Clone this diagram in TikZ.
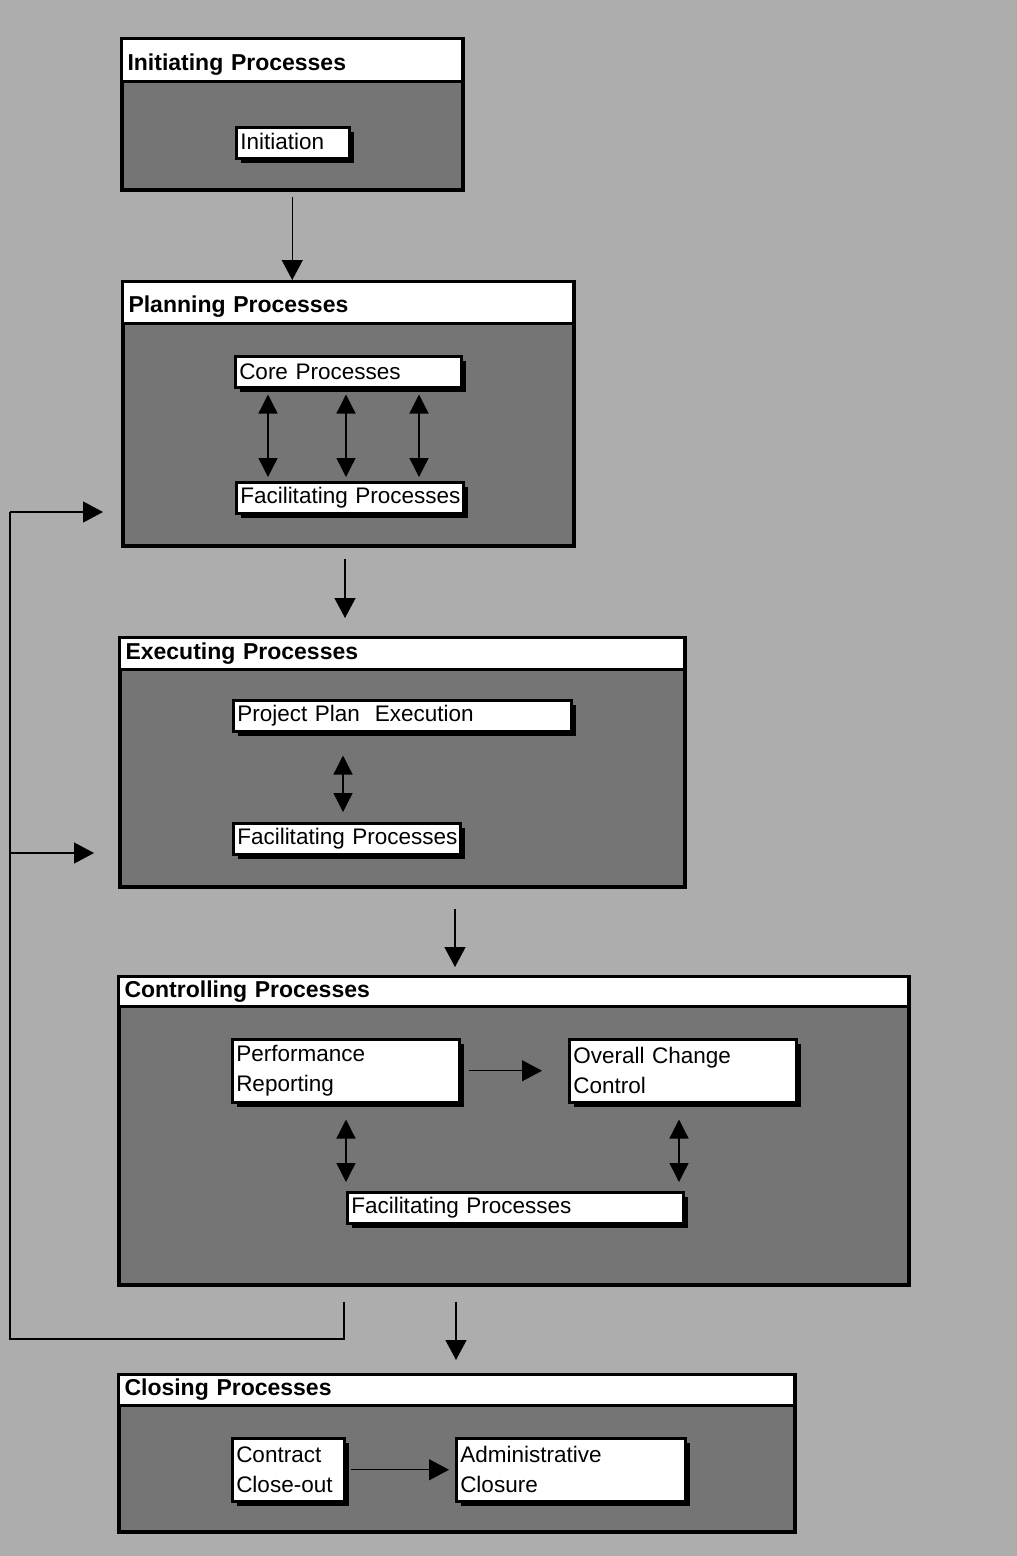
\documentclass[tikz,border=0pt]{standalone}
\usepackage{fontspec}
\setmainfont{Liberation Sans}
\usetikzlibrary{arrows.meta,shadows,calc}
\definecolor{bgc}{gray}{0.68}
\definecolor{bodyc}{gray}{0.46}
\begin{document}
\begin{tikzpicture}[x=1pt,y=-1pt,
  stagebody/.style={draw=black, line width=3.5pt, fill=bodyc, inner sep=0pt, anchor=north west},
  stagehead/.style={draw=black, line width=3pt, fill=white, inner xsep=6pt, inner ysep=0pt, anchor=north west, font=\bfseries\fontsize{23}{26}\selectfont, align=left},
  procbox/.style={draw=black, line width=2.5pt, fill=white, inner xsep=4pt, inner ysep=0pt, anchor=north west, font=\fontsize{22.5}{30}\selectfont, align=left, drop shadow={shadow xshift=5pt, shadow yshift=-5pt, fill=black, opacity=1}},
  arr/.style={line width=1.3pt, -{Triangle[length=20pt,width=21pt]}},
  darr/.style={line width=1.3pt, {Triangle[length=19pt,width=19pt]}-{Triangle[length=19pt,width=19pt]}},
  fb/.style={line width=1.3pt}
]
\fill[bgc] (0,0) rectangle (1017,1556);
\useasboundingbox (0,0) rectangle (1017,1556);

% ---- Initiating
\node[stagebody, minimum width=341pt, minimum height=151pt] (ini) at (120,37) {};
\node[stagehead, text width=329pt, minimum height=43pt, text height=25pt] (iniH) at (120,37) {Initiating Processes};
\node[procbox, text width=105pt, minimum height=31pt, text height=14pt] (initb) at (235,126) {Initiation};

% ---- Planning
\node[stagebody, minimum width=451pt, minimum height=264pt] (plan) at (121,280) {};
\node[stagehead, text width=439pt, minimum height=42pt, text height=25pt] (planH) at (121,280) {Planning Processes};
\node[procbox, text width=218pt, minimum height=31pt] (core) at (234,355) {Core Processes};
\node[procbox, text width=219pt, minimum height=31pt] (facP) at (235,481) {\mbox{Facilitating Processes}};

% ---- Executing
\node[stagebody, minimum width=565pt, minimum height=249pt] (exec) at (118,636) {};
\node[stagehead, text width=553pt, minimum height=32pt] (execH) at (118,636) {Executing Processes};
\node[procbox, text width=330pt, minimum height=31pt] (ppe) at (232,699) {Project Plan\ \ Execution};
\node[procbox, text width=219pt, minimum height=31pt] (facE) at (232,822) {\mbox{Facilitating Processes}};

% ---- Controlling
\node[stagebody, minimum width=790pt, minimum height=308pt] (ctrl) at (117,975) {};
\node[stagehead, text width=778pt, minimum height=30pt] (ctrlH) at (117,975) {Controlling Processes};
\node[procbox, text width=219pt, minimum height=63pt] (perf) at (231,1038) {Performance\\Reporting};
\node[procbox, text width=219pt, minimum height=63pt] (occ) at (568,1038) {Overall Change\\Control};
\node[procbox, text width=328pt, minimum height=31pt] (facC) at (346,1191) {Facilitating Processes};

% ---- Closing
\node[stagebody, minimum width=676pt, minimum height=157pt] (close) at (117,1373) {};
\node[stagehead, text width=664pt, minimum height=31pt] (closeH) at (117,1373) {Closing Processes};
\node[procbox, text width=104pt, minimum height=63pt] (cco) at (231,1437) {Contract\\Close-out};
\node[procbox, text width=221pt, minimum height=63pt] (adm) at (455,1437) {Administrative\\Closure};

% ---- Connectors between stages
\draw[arr, shorten <=5pt] (ini.south) -- (ini.south |- plan.north);
\coordinate (pe) at ($(plan.south west)+(224,0)$);
\draw[arr, shorten <=11pt, shorten >=18pt] (pe) -- (pe |- exec.north);
\coordinate (ec) at ($(exec.south west)+(337,0)$);
\draw[arr, shorten <=20pt, shorten >=8pt] (ec) -- (ec |- ctrl.north);
\coordinate (cc) at ($(ctrl.south west)+(339,0)$);
\draw[arr, shorten <=15pt, shorten >=13pt] (cc) -- (cc |- close.north);

% ---- Planning internal
\foreach \dx in {34,112,185} {
  \coordinate (d\dx) at ($(core.south west)+(\dx,0)$);
  \draw[darr, shorten <=6pt, shorten >=4pt] (d\dx) -- (d\dx |- facP.north);
}

% ---- Executing internal
\coordinate (ed) at ($(ppe.south west)+(111,0)$);
\draw[darr, shorten <=23pt, shorten >=10pt] (ed) -- (ed |- facE.north);

% ---- Controlling internal
\draw[arr, shorten <=8pt, shorten >=26pt] (perf.east) -- (occ.west);
\coordinate (cl) at (facC.north west);
\coordinate (cr) at ($(facC.north west)+(333,0)$);
\draw[darr, shorten <=16pt, shorten >=9pt] (cl |- perf.south) -- (cl);
\draw[darr, shorten <=16pt, shorten >=9pt] (cr |- occ.south) -- (cr);

% ---- Closing internal
\draw[arr, shorten <=5pt, shorten >=6pt] (cco.east) -- (adm.west);

% ---- Feedback loop
\coordinate (fbTop) at ($(ctrl.south west)+(227,15)$);
\coordinate (fbL) at (10,1339);
\coordinate (fbP) at (10,512);
\coordinate (fbE) at (10,853);
\draw[fb] (fbTop) |- (fbL) -- (fbP);
\draw[arr, shorten >=18pt] (fbP) -- (fbP -| plan.west);
\draw[arr, shorten >=24pt] (fbE) -- (fbE -| exec.west);
\end{tikzpicture}
\end{document}
